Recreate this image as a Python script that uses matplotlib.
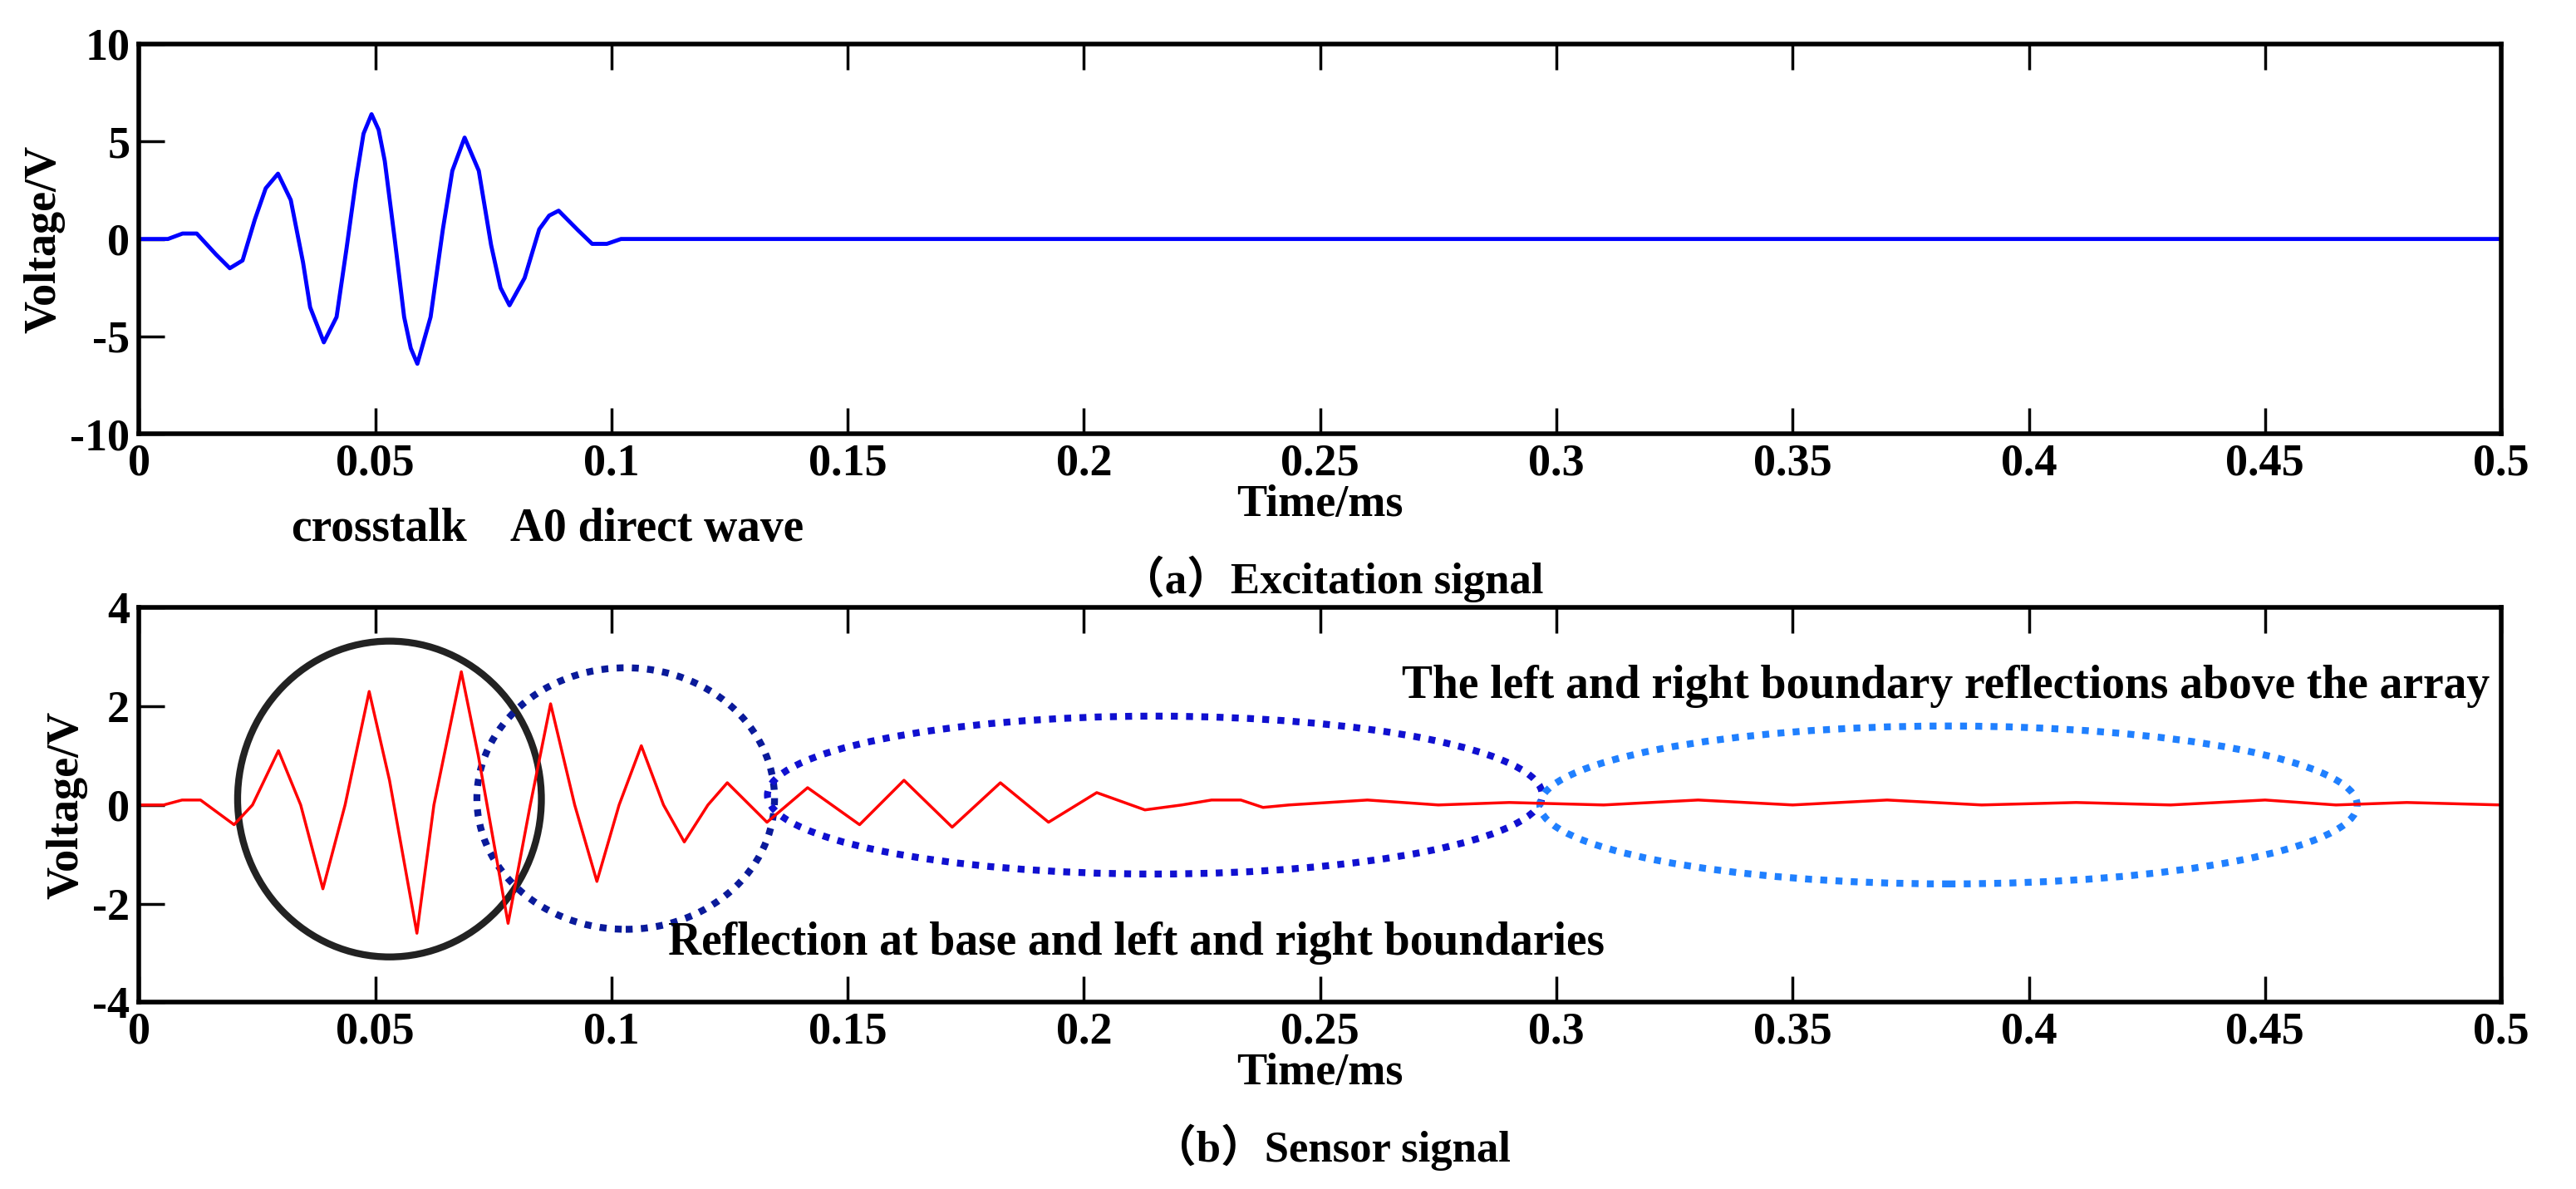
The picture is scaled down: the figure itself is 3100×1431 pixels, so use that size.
import matplotlib
matplotlib.use("Agg")
import matplotlib.pyplot as plt
from matplotlib.patches import Ellipse

# excitation signal (ms, V)
exc_t = [0, 0.0061, 0.0092, 0.0122, 0.0163, 0.0192, 0.0219, 0.0245, 0.0268, 0.0294, 0.0321,
         0.0347, 0.0362, 0.0391, 0.0418, 0.0439, 0.0459, 0.0475, 0.0492, 0.0507, 0.052, 0.0541, 0.0561,
         0.0575, 0.0589, 0.0617, 0.0643, 0.0663, 0.0689, 0.0719, 0.0745, 0.0765, 0.0784, 0.0816,
         0.0847, 0.0868, 0.0888, 0.0929, 0.0959, 0.099, 0.102, 0.5]
exc_v = [0, 0, 0.28, 0.28, -0.8, -1.5, -1.1, 1.0, 2.6, 3.35, 2.0,
         -1.2, -3.5, -5.3, -4.0, -0.5, 3.0, 5.4, 6.4, 5.6, 4.0, 0, -4.0,
         -5.6, -6.4, -4.0, 0.5, 3.5, 5.2, 3.5, -0.3, -2.5, -3.4, -2.0,
         0.5, 1.2, 1.45, 0.45, -0.25, -0.25, 0, 0]

# sensor signal (ms, V)
sen_t = [0, 0.0052, 0.0091, 0.013, 0.0201, 0.024, 0.0295, 0.0342, 0.0389, 0.0436,
         0.0487, 0.053, 0.0588, 0.0624, 0.0682, 0.0718, 0.0781, 0.0828, 0.0871, 0.0922,
         0.0969, 0.1016, 0.1063, 0.111, 0.1154, 0.1204, 0.1245, 0.1329, 0.1415, 0.1525,
         0.1619, 0.1721, 0.1823, 0.1925, 0.2027, 0.2129, 0.2207, 0.227, 0.2332, 0.2379,
         0.2434, 0.26, 0.275, 0.29, 0.31, 0.33, 0.35, 0.37, 0.39, 0.41,
         0.43, 0.45, 0.465, 0.48, 0.5]
sen_v = [0, 0, 0.1, 0.1, -0.4, 0, 1.1, 0, -1.7, 0,
         2.3, 0.5, -2.6, 0, 2.7, 1.0, -2.4, 0, 2.05, 0,
         -1.55, 0, 1.2, 0, -0.75, 0, 0.45, -0.35, 0.35, -0.4,
         0.5, -0.45, 0.45, -0.35, 0.25, -0.1, 0.0, 0.1, 0.1, -0.05,
         0, 0.1, 0, 0.05, 0, 0.1, 0, 0.1, 0, 0.05,
         0, 0.1, 0, 0.05, 0]

xticks = [0, 0.05, 0.1, 0.15, 0.2, 0.25, 0.3, 0.35, 0.4, 0.45, 0.5]
xtick_labels = ["0", "0.05", "0.1", "0.15", "0.2", "0.25", "0.3", "0.35", "0.4", "0.45", "0.5"]

plt.rcParams["font.family"] = ["Liberation Serif", "Noto Sans CJK SC", "DejaVu Sans"]
plt.rcParams["font.weight"] = "bold"
plt.rcParams["font.size"] = 39
plt.rcParams["axes.unicode_minus"] = False

fig = plt.figure(figsize=(31, 14.31), dpi=100)
ax1 = fig.add_axes([0.054, 0.635, 0.917, 0.328])
ax2 = fig.add_axes([0.054, 0.157, 0.917, 0.332])

for ax in (ax1, ax2):
    ax.set_xlim(0, 0.5)
    ax.set_xticks(xticks)
    ax.set_xticklabels(xtick_labels)
    ax.tick_params(direction="in", length=22, width=2.5, top=True, right=False, pad=8)
    for s in ax.spines.values():
        s.set_linewidth(4)
    ax.set_xlabel("Time/ms", fontweight="bold", labelpad=0)
    ax.set_ylabel("Voltage/V", fontweight="bold", labelpad=4)

ax1.plot(exc_t, exc_v, color="#0000ff", lw=3.5)
ax1.set_ylim(-10, 10)
ax1.set_yticks([-10, -5, 0, 5, 10])

ax2.plot(sen_t, sen_v, color="#ff0000", lw=2.5)
ax2.set_ylim(-4, 4)
ax2.set_yticks([-4, -2, 0, 2, 4])

ax2.add_patch(Ellipse((0.053, 0.12), 0.0643, 6.4, fill=False, ec="#222222", lw=6))
ax2.add_patch(Ellipse((0.103, 0.13), 0.063, 5.3, fill=False, ec="#0a1a9a", lw=6, ls=(0, (1, 1.2))))
ax2.add_patch(Ellipse((0.215, 0.2), 0.164, 3.2, fill=False, ec="#1010d0", lw=6, ls=(0, (1, 1.2))))
ax2.add_patch(Ellipse((0.383, 0.0), 0.173, 3.2, fill=False, ec="#2080ff", lw=6, ls=(0, (1, 1.2))))

ax2.text(0.4975, 2.4, "The left and right boundary reflections above the array",
         ha="right", va="center", fontsize=40, fontweight="bold")
ax2.text(0.112, -2.8, "Reflection at base and left and right boundaries",
         ha="left", va="center", fontsize=40, fontweight="bold")

fig.text(0.113, 0.555, "crosstalk", fontsize=40, fontweight="bold", va="center")
fig.text(0.198, 0.555, "A0 direct wave", fontsize=40, fontweight="bold", va="center")
fig.text(0.517, 0.513, "（a）Excitation signal", fontsize=38, fontweight="bold", ha="center", va="center")
fig.text(0.517, 0.035, "（b）Sensor signal", fontsize=38, fontweight="bold", ha="center", va="center")

fig.savefig("out.png", dpi=100, facecolor="white")
